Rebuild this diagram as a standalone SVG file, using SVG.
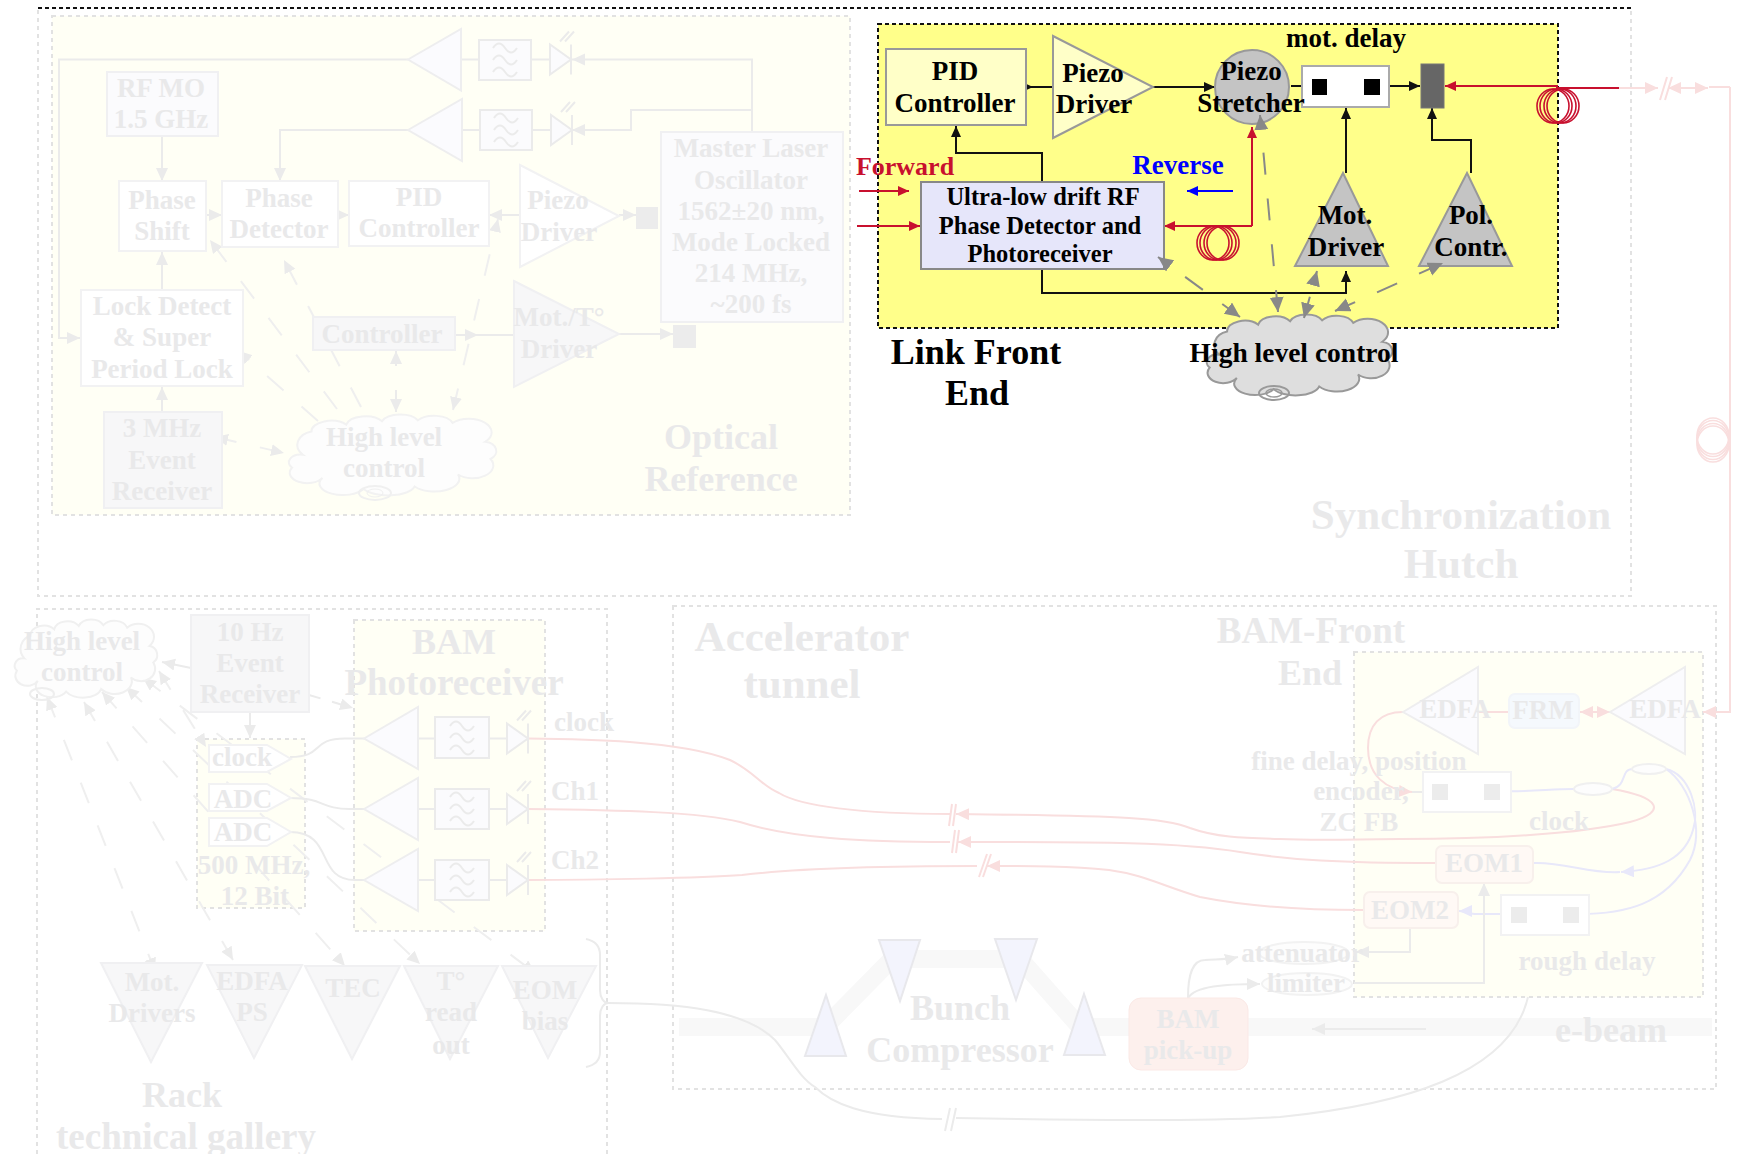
<svg xmlns="http://www.w3.org/2000/svg" width="1743" height="1154" viewBox="0 0 1743 1154">
<style>
text{font-family:"Liberation Serif","Times New Roman",serif;font-weight:700;text-anchor:middle}
.b{fill:#000;font-size:27px}
.f{fill:#e9e9ea;font-size:27px}
.l{font-size:36px}
.xl{font-size:43px}
.frame{fill:none;stroke:#e2e2e2;stroke-width:2;stroke-dasharray:4 4}
.framey{fill:#fffff5;stroke:#e2e2e2;stroke-width:2;stroke-dasharray:4 4}
.pb{fill:#fbfbfd;stroke:#f0f0f2;stroke-width:2}
.pg{fill:#f7f7f8;stroke:#f0f0f2;stroke-width:2}
.pw{fill:#fff;stroke:#f2f2f3;stroke-width:2}
.amp{fill:#fbfbfe;stroke:#eeeeef;stroke-width:2}
.flt{fill:#fbfbfd;stroke:#ebebeb;stroke-width:2}
.ln{fill:none;stroke:#ebebeb;stroke-width:2}
.lnd{fill:none;stroke:#efefef;stroke-width:2;stroke-dasharray:22 24}
.pr{fill:none;stroke:#f9dede;stroke-width:2}
.pl{fill:none;stroke:#e8e8fa;stroke-width:2}
.k{fill:none;stroke:#111;stroke-width:2}
.r{fill:none;stroke:#c8102e;stroke-width:2}
.gd{fill:none;stroke:#888;stroke-width:2;stroke-dasharray:22 24}
.sq{fill:#ececec;stroke:none}
.coil{fill:none;stroke:#c8102e;stroke-width:1.6}
.pcoil{fill:none;stroke:#f9dede;stroke-width:1.6}
</style>
<defs>
<marker id="mk" markerWidth="12" markerHeight="12" refX="11" refY="5" orient="auto" markerUnits="userSpaceOnUse"><path d="M0,0L11,5L0,10Z" fill="#111"/></marker>
<marker id="mr" markerWidth="12" markerHeight="12" refX="11" refY="5" orient="auto" markerUnits="userSpaceOnUse"><path d="M0,0L11,5L0,10Z" fill="#c8102e"/></marker>
<marker id="mb" markerWidth="12" markerHeight="12" refX="11" refY="5" orient="auto" markerUnits="userSpaceOnUse"><path d="M0,0L11,5L0,10Z" fill="#00f"/></marker>
<marker id="mg" markerWidth="16" markerHeight="16" refX="15" refY="7" orient="auto-start-reverse" markerUnits="userSpaceOnUse"><path d="M0,0L15,7L0,14Z" fill="#888"/></marker>
<marker id="mf" markerWidth="14" markerHeight="14" refX="13" refY="6" orient="auto-start-reverse" markerUnits="userSpaceOnUse"><path d="M0,0L13,6L0,12Z" fill="#ebebeb"/></marker>
<marker id="mp" markerWidth="14" markerHeight="14" refX="13" refY="6" orient="auto-start-reverse" markerUnits="userSpaceOnUse"><path d="M0,0L13,6L0,12Z" fill="#f9dede"/></marker>
<marker id="ml" markerWidth="14" markerHeight="14" refX="13" refY="6" orient="auto" markerUnits="userSpaceOnUse"><path d="M0,0L13,6L0,12Z" fill="#e8e8fa"/></marker>
<path id="cloudshape" d="M22,45A17,16 0 0 1 30,18A18,12 0 0 1 62,10A18,12 0 0 1 95,6A18,12 0 0 1 128,5A18,12 0 0 1 160,8A20,15 0 0 1 190,30A12,11 0 0 1 195,50A19,15 0 0 1 165,68A23,15 0 0 1 125,82A25,13 0 0 1 78,85A21,13 0 0 1 40,72A16,12 0 0 1 12,60A11,9 0 0 1 22,45Z" vector-effect="non-scaling-stroke"/>
<g id="filter"><path d="M-12,-12c4,-6 8,-6 12,0s8,6 12,0M-12,0c4,-6 8,-6 12,0s8,6 12,0M-12,12c4,-6 8,-6 12,0s8,6 12,0" fill="none" stroke="#ebebeb" stroke-width="2"/></g>
<g id="diode"><path d="M0,-15L0,15L21,0Z" fill="#fbfbfd" stroke="#ebebeb" stroke-width="2"/><path d="M21,-15V15M10,-18L19,-28M15,-18L24,-28" fill="none" stroke="#ebebeb" stroke-width="2"/></g>
<g id="coilg"><ellipse cx="-5" cy="0" rx="16" ry="17"/><ellipse cx="-2" cy="0" rx="16" ry="17"/><ellipse cx="2" cy="0" rx="16" ry="17"/><ellipse cx="5" cy="0" rx="16" ry="17"/></g>
<g id="coilp"><ellipse cx="0" cy="-4" rx="16" ry="18"/><ellipse cx="0" cy="-1.500" rx="16" ry="18"/><ellipse cx="0" cy="1.500" rx="16" ry="18"/><ellipse cx="0" cy="4" rx="16" ry="18"/></g>
</defs>
<rect width="1743" height="1154" fill="#fff"/>

<g id="frames">
<path class="frame" d="M38,10V596H1631V10"/>
<path d="M38,8H1631" fill="none" stroke="#111" stroke-width="2" stroke-dasharray="4 3"/>
<rect id="optical-frame" class="framey" x="52" y="16" width="798" height="499"/>
<path class="frame" d="M37,1154V609H607V1154"/>
<rect class="frame" x="673" y="606" width="1043" height="483"/>
<rect class="framey" x="354" y="620" width="191" height="311"/>
<rect class="framey" x="197" y="739" width="108" height="169"/>
<rect class="framey" x="1354" y="652" width="349" height="345"/>
</g>

<g id="beam">
<path d="M679,1027H825L892,959H1020L1080,1027H1712" fill="none" stroke="#f8f8f8" stroke-width="18"/>
</g>

<g id="connectors">
<path class="ln" marker-end="url(#mf)" d="M408,59.500H59V338H80"/>
<path class="ln" marker-end="url(#mf)" d="M752,132V59.500H572"/>
<path class="ln" marker-end="url(#mf)" d="M752,110H631V130H572"/>
<path class="ln" marker-end="url(#mf)" d="M408,130H280V181"/>
<path class="ln" d="M461,59.500H479M531,59.500H550M462,130H480M532,130H551"/>
<path class="ln" marker-end="url(#mf)" d="M162,136V181"/>
<path class="ln" marker-end="url(#mf)" d="M206,215H222"/>
<path class="ln" marker-end="url(#mf)" d="M338,215H349"/>
<path class="ln" marker-end="url(#mf)" d="M520,215H489"/>
<path class="ln" marker-end="url(#mf)" d="M619,215H636"/>
<path class="ln" marker-end="url(#mf)" d="M162,290V252"/>
<path class="ln" marker-end="url(#mf)" d="M162,412V387"/>
<path class="ln" d="M455,335H514"/>
<path class="ln" marker-end="url(#mf)" d="M455,335H478"/>
<path class="ln" marker-end="url(#mf)" d="M619,334H673"/>
<path class="lnd" marker-end="url(#mf)" d="M337,409L210,240"/>
<path class="lnd" marker-end="url(#mf)" d="M318,421L239,351"/>
<path class="lnd" marker-end="url(#mf)" d="M361,407L284,260"/>
<path class="lnd" marker-start="url(#mf)" marker-end="url(#mf)" d="M453,410L498,219"/>
<path class="lnd" marker-start="url(#mf)" marker-end="url(#mf)" d="M215,437L284,453"/>
<path class="ln" stroke-dasharray="22 24" marker-start="url(#mf)" marker-end="url(#mf)" d="M396,412V351"/>
<path class="lnd" marker-start="url(#mf)" marker-end="url(#mf)" d="M47,697L155,971"/>
<path class="lnd" marker-start="url(#mf)" marker-end="url(#mf)" d="M84,702L233,960"/>
<path class="lnd" marker-start="url(#mf)" marker-end="url(#mf)" d="M102,692L345,966"/>
<path class="lnd" marker-start="url(#mf)" marker-end="url(#mf)" d="M126,687L420,964"/>
<path class="lnd" marker-start="url(#mf)" marker-end="url(#mf)" d="M143,678L535,973"/>
<path class="lnd" marker-start="url(#mf)" marker-end="url(#mf)" d="M159,671L206,747"/>
<path class="ln" marker-end="url(#mf)" d="M191,668L162,662"/>
<path class="ln" stroke-dasharray="12 12" marker-end="url(#mf)" d="M309,695L353,708"/>
<path class="ln" marker-end="url(#mf)" d="M250,712V738"/>
<path class="ln" d="M290,757C325,757 310,738.500 345,738.500H364"/>
<path class="ln" d="M290,798C325,798 320,809 350,809H364"/>
<path class="ln" d="M290,832C335,832 315,880 355,880H364"/>
<path class="ln" d="M418,738.500H435M489,738.500H507M418,809H435M489,809H507M418,880H435M489,880H507"/>
<path class="ln" d="M586,939C596,941 600,946 600,955V990C600,998 604,1003 608,1003C604,1003 600,1008 600,1016V1052C600,1060 596,1065 586,1067"/>
<path class="ln" d="M608,1003C680,1003 745,1010 775,1040C790,1058 800,1078 815,1087C830,1102 860,1118 942,1119M956,1118C1060,1120 1200,1122 1280,1117C1400,1105 1510,1075 1528,997"/>
<path class="ln" d="M945,1131L950,1108M951,1131L956,1108"/>
<path class="pr" d="M528,738.500C580,739 680,740 730,760C755,772 760,785 779,793C800,806 860,814 950,814"/>
<path class="pr" marker-end="url(#mp)" d="M1612,789C1660,797 1668,812 1630,822C1580,834 1490,839 1400,839C1340,840 1300,840 1280,839C1240,838 1215,837 1190,828C1165,818 1130,816 956,814"/>
<path class="pr" d="M528,809C620,810 700,812 740,822C790,838 860,842 950,842"/>
<path class="pr" marker-end="url(#mp)" d="M1435,863C1340,863 1290,860 1240,852C1180,842 1100,842 958,842"/>
<path class="pr" d="M528,880C600,880 700,878 742,875C800,868 880,866 977,866"/>
<path class="pr" marker-end="url(#mp)" d="M1364,910C1300,910 1240,905 1200,897C1160,885 1145,875 1109,870C1070,866 1030,866 987,866"/>
<path class="pr" d="M952,804L949,826M956,804L953,826M955,830L952,853M959,830L956,853M987,854L979,877M991,854L983,877"/>
<path class="pr" marker-end="url(#mp)" d="M1403,712C1380,712 1368,725 1368,748C1368,775 1385,790 1412,792"/>
<path class="pr" d="M1478,712H1509"/>
<path class="pr" marker-start="url(#mp)" marker-end="url(#mp)" d="M1580,712H1610"/>
<path class="pr" marker-end="url(#mp)" d="M1730,87V712H1703"/>
<path class="pr" marker-end="url(#mp)" d="M1619,88H1658"/>
<path class="pr" marker-start="url(#mp)" marker-end="url(#mp)" d="M1668,88H1708"/>
<path class="pr" d="M1709,87H1730"/>
<path class="pr" d="M1660,100L1667,77M1665,100L1672,77"/>
<use href="#coilp" class="pcoil" x="1713" y="440"/>
<path class="ln" d="M1412,792H1432"/>
<path class="pl" d="M1500,791C1530,792 1550,789 1574,789"/>
<path class="pl" d="M1612,789C1628,785 1620,769 1633,769"/>
<path class="pl" marker-end="url(#ml)" d="M1666,769C1690,775 1700,810 1693,830C1685,858 1660,870 1621,872"/>
<path class="pl" d="M1620,872C1590,874 1565,862 1534,863"/>
<path class="pl" d="M1666,769C1690,785 1705,830 1690,860C1665,905 1625,914 1579,914"/>
<path class="pl" marker-end="url(#ml)" d="M1510,914H1475C1470,914 1468,911 1459,911"/>
<path class="ln" marker-end="url(#mf)" d="M1410,928V952H1356"/>
<path class="ln" marker-end="url(#mf)" d="M1354,983H1484V883"/>
<path class="ln" marker-end="url(#mf)" d="M1188,998C1188,975 1192,960 1205,960C1215,959 1225,960 1238,957"/>
<path class="ln" marker-end="url(#mf)" d="M1188,998C1195,986 1225,984 1260,984"/>
<path class="ln" marker-end="url(#mf)" d="M1426,1029H1312"/>
</g>

<g id="node-link-frame"><rect x="878" y="24" width="680" height="304" fill="#ffff8a" stroke="#111" stroke-width="2" stroke-dasharray="4 3"/></g>
<g id="connectors-link">
<path class="k" marker-end="url(#mk)" d="M1042,182V153H956V126"/>
<path class="k" d="M1026,87H1053"/><path d="M1022,82L1033,87L1022,92Z" fill="#111"/>
<path class="k" marker-end="url(#mk)" d="M1153,87H1215"/>
<path class="k" d="M1291,86H1312"/>
<path class="k" marker-end="url(#mk)" d="M1380,86H1420"/>
<path class="k" marker-end="url(#mk)" d="M1042,269V293H1346V271"/>
<path class="k" marker-end="url(#mk)" d="M1346,173V108"/>
<path class="k" marker-end="url(#mk)" d="M1471,173V140H1432V108"/>
<path class="r" marker-end="url(#mr)" d="M1558,86H1445"/>
<path class="r" d="M1556,88H1619"/>
<path class="r" marker-end="url(#mr)" d="M859,191H909"/>
<path class="r" marker-end="url(#mr)" d="M857,226H920"/>
<path class="r" marker-end="url(#mr)" d="M1252,226H1164"/>
<path class="r" marker-end="url(#mr)" d="M1252,226V127"/>
<path d="M1233,191H1187" fill="none" stroke="#00f" stroke-width="2" marker-end="url(#mb)"/>
<use href="#coilg" class="coil" x="1558" y="106"/>
<use href="#coilg" class="coil" x="1218" y="243"/>
</g>

<g id="pid-controller"><rect x="886" y="49" width="140" height="76" fill="#ffffc8" stroke="#999" stroke-width="2"/><text class="b" x="955" y="80">PID</text><text class="b" x="955" y="112">Controller</text></g>
<g id="piezo-driver"><path d="M1053,36L1153,87L1053,138Z" fill="#ffffc8" stroke="#999" stroke-width="2"/><text class="b" x="1093" y="82">Piezo</text><text class="b" x="1094" y="113">Driver</text></g>
<g id="delay"><rect x="1302" y="66" width="87" height="41" fill="#fff" stroke="#aaa" stroke-width="2"/><rect x="1312" y="79" width="15" height="16"/><rect x="1364" y="79" width="16" height="16"/><text class="b" x="1346" y="47">mot. delay</text></g>
<g id="piezo-stretcher"><ellipse cx="1252" cy="87" rx="37" ry="37" fill="#c4c4c4" stroke="#999" stroke-width="2"/><text class="b" x="1251" y="80">Piezo</text><text class="b" x="1251" y="112">Stretcher</text></g>
<g id="pol-mirror"><rect x="1421" y="64" width="23" height="44" fill="#666" stroke="#777"/></g>
<g id="phase-detector"><rect x="921" y="182" width="243" height="87" fill="#e6e6fa" stroke="#888" stroke-width="2"/><text class="b" x="1043" y="205" style="font-size:24.500px">Ultra-low drift RF</text><text class="b" x="1040" y="234" style="font-size:24.500px">Phase Detector and</text><text class="b" x="1040" y="262" style="font-size:24.500px">Photoreceiver</text></g>
<g id="mot-driver"><path d="M1343,173L1388,266H1295Z" fill="#c4c4c4" stroke="#999" stroke-width="2"/><text class="b" x="1345" y="224">Mot.</text><text class="b" x="1346" y="256">Driver</text></g>
<g id="pol-contr"><path d="M1467,173L1512,266H1419Z" fill="#c4c4c4" stroke="#999" stroke-width="2"/><text class="b" x="1471" y="224">Pol.</text><text class="b" x="1471" y="256">Contr.</text></g>
<g id="forward-label"><text class="b" x="905" y="175" style="fill:#c8102e;font-size:26px">Forward</text></g>
<g id="reverse-label"><text class="b" x="1178" y="174" style="fill:#00f">Reverse</text></g>
<g id="link-label"><text class="b l" x="976" y="364">Link Front</text><text class="b l" x="977" y="405">End</text></g>
<g id="cloud-link"><use href="#cloudshape" transform="translate(1198,316) scale(.97,.86)" fill="#dedede" stroke="#999" stroke-width="2"/><ellipse cx="1274" cy="393" rx="15" ry="7" fill="none" stroke="#999" stroke-width="2"/><ellipse cx="1274" cy="393" rx="8" ry="4" fill="none" stroke="#999" stroke-width="1.500"/></g>
<g id="connectors-control">
<path class="gd" marker-start="url(#mg)" marker-end="url(#mg)" d="M1240,317L1158,257"/>
<path class="gd" marker-start="url(#mg)" marker-end="url(#mg)" d="M1278,312L1260,115"/>
<path class="gd" marker-start="url(#mg)" marker-end="url(#mg)" d="M1304,318L1317,271"/>
<path class="gd" marker-start="url(#mg)" marker-end="url(#mg)" d="M1335,311L1443,263"/>
</g>
<g id="cloud-link-label"><text class="b" x="1294" y="362" style="font-size:27.500px">High level control</text></g>

<g id="rf-mo"><rect class="pb" x="107" y="72" width="111" height="64"/><text class="f" x="161" y="97">RF MO</text><text class="f" x="161" y="128">1.5 GHz</text></g>
<g id="amp-o1"><path class="amp" d="M408,59.500L461,29V90.500Z"/><rect class="flt" x="479" y="40" width="52" height="40"/><use href="#filter" x="505" y="60"/><use href="#diode" x="550" y="59.500"/></g>
<g id="amp-o2"><path class="amp" d="M408,130L462,99V161Z"/><rect class="flt" x="480" y="110" width="52" height="40"/><use href="#filter" x="506" y="130"/><use href="#diode" x="551" y="130"/></g>
<g id="phase-shift"><rect class="pw" x="119" y="181" width="87" height="70"/><text class="f" x="162" y="209">Phase</text><text class="f" x="162" y="240">Shift</text></g>
<g id="phase-det"><rect class="pw" x="222" y="181" width="116" height="66"/><text class="f" x="279" y="207">Phase</text><text class="f" x="279" y="238">Detector</text></g>
<g id="pid-o"><rect class="pw" x="349" y="181" width="140" height="65"/><text class="f" x="419" y="206">PID</text><text class="f" x="419" y="237">Controller</text></g>
<g id="piezo-o"><path class="pw" d="M520,165L619,216L520,267Z"/><text class="f" x="558" y="209">Piezo</text><text class="f" x="559" y="241">Driver</text></g>
<g id="sq-o"><rect class="sq" x="636" y="207" width="22" height="22"/><rect class="sq" x="673" y="325" width="23" height="23"/></g>
<g id="master"><rect class="pb" x="661" y="132" width="182" height="190"/><text class="f" x="751" y="157">Master Laser</text><text class="f" x="751" y="189">Oscillator</text><text class="f" x="751" y="220">1562±20 nm,</text><text class="f" x="751" y="251">Mode Locked</text><text class="f" x="751" y="282">214 MHz,</text><text class="f" x="751" y="313">~200 fs</text></g>
<g id="lock"><rect class="pw" x="81" y="290" width="162" height="96"/><text class="f" x="162" y="315">Lock Detect</text><text class="f" x="162" y="346">&amp; Super</text><text class="f" x="162" y="378">Period Lock</text></g>
<g id="evr3"><rect class="pg" x="104" y="412" width="118" height="96"/><text class="f" x="162" y="437">3 MHz</text><text class="f" x="162" y="469">Event</text><text class="f" x="162" y="500">Receiver</text></g>
<g id="ctrl"><rect class="pg" x="313" y="317" width="142" height="33"/><text class="f" x="382" y="343">Controller</text></g>
<g id="mot-o"><path class="pg" d="M514,281L619,334L514,387Z"/><text class="f" x="559" y="326">Mot./T°</text><text class="f" x="559" y="358">Driver</text></g>
<g id="cloud-o"><use href="#cloudshape" transform="translate(279,416) scale(1.085,.86)" fill="#fdfdfd" stroke="#f2f2f2" stroke-width="2"/><ellipse cx="375" cy="493" rx="16" ry="7" fill="none" stroke="#f0f0f0" stroke-width="2"/><ellipse cx="375" cy="493" rx="8" ry="4" fill="none" stroke="#f0f0f0"/><text class="f" x="384" y="446">High level</text><text class="f" x="384" y="477">control</text></g>
<g id="optical-label"><text class="f l" x="721" y="449">Optical</text><text class="f l" x="721" y="491">Reference</text></g>
<g id="sync-label"><text class="f xl" x="1461" y="529">Synchronization</text><text class="f xl" x="1461" y="578">Hutch</text></g>

<g id="cloud-r"><use href="#cloudshape" transform="translate(8,621) scale(.745,.83)" fill="#fdfdfd" stroke="#f0f0f0" stroke-width="2"/><ellipse cx="42" cy="694" rx="12" ry="6" fill="none" stroke="#eee" stroke-width="2"/><text class="f" x="82" y="650">High level</text><text class="f" x="82" y="681">control</text></g>
<g id="evr10"><rect class="pg" x="191" y="615" width="118" height="97"/><text class="f" x="250" y="641">10 Hz</text><text class="f" x="250" y="672">Event</text><text class="f" x="250" y="703">Receiver</text></g>
<g id="bam-label"><text class="f l" x="454" y="654">BAM</text><text class="f l" x="454" y="695" style="font-size:37px">Photoreceiver</text></g>
<g id="amp1"><path class="amp" d="M364,738.500L418,707V769Z"/><rect class="flt" x="435" y="717" width="54" height="41"/><use href="#filter" x="462" y="738"/><use href="#diode" x="507" y="738.500"/><text class="f" x="584" y="731">clock</text></g>
<g id="amp2"><path class="amp" d="M364,809L418,778V840Z"/><rect class="flt" x="435" y="789" width="54" height="40"/><use href="#filter" x="462" y="809"/><use href="#diode" x="507" y="809"/><text class="f" x="575" y="800">Ch1</text></g>
<g id="amp3"><path class="amp" d="M364,880L418,849V911Z"/><rect class="flt" x="435" y="860" width="54" height="40"/><use href="#filter" x="462" y="880"/><use href="#diode" x="507" y="880"/><text class="f" x="575" y="869">Ch2</text></g>
<g id="adc-clock"><path class="pw" d="M209,745H267L291,759L267,772H209Z"/><text class="f" x="242" y="766">clock</text></g>
<g id="adc1"><path class="pw" d="M209,784H267L291,798L267,811H209Z"/><text class="f" x="243" y="808">ADC</text></g>
<g id="adc2"><path class="pw" d="M209,818H267L291,832L267,846H209Z"/><text class="f" x="243" y="841">ADC</text></g>
<g id="adc-label"><text class="f" x="254" y="874">500 MHz,</text><text class="f" x="255" y="905">12 Bit</text></g>
<g id="t1"><path class="pg" d="M101,963H202L151,1062Z"/><text class="f" x="152" y="991">Mot.</text><text class="f" x="152" y="1022">Drivers</text></g>
<g id="t2"><path class="pg" d="M207,965H302L254,1058Z"/><text class="f" x="252" y="990">EDFA</text><text class="f" x="252" y="1021">PS</text></g>
<g id="t3"><path class="pg" d="M305,966H400L352,1059Z"/><text class="f" x="353" y="997">TEC</text></g>
<g id="t4"><path class="pg" d="M404,966H498L450,1059Z"/><text class="f" x="451" y="990">T°</text><text class="f" x="451" y="1021">read</text><text class="f" x="451" y="1054">out</text></g>
<g id="t5"><path class="pg" d="M502,966H596L548,1058Z"/><text class="f" x="545" y="999">EOM</text><text class="f" x="545" y="1030">bias</text></g>
<g id="rack-label"><text class="f l" x="182" y="1107">Rack</text><text class="f l" x="186" y="1149" style="font-size:37px">technical gallery</text></g>

<g id="accel-label"><text class="f xl" x="802" y="651">Accelerator</text><text class="f xl" x="802" y="698">tunnel</text></g>
<g id="bc1"><path d="M826,995L846,1056H805Z" fill="#f3f4fd" stroke="#e8e8ec" stroke-width="2"/></g>
<g id="bc2"><path d="M879,940H920L900,1001Z" fill="#f3f4fd" stroke="#e8e8ec" stroke-width="2"/></g>
<g id="bc3"><path d="M995,939H1037L1016,1000Z" fill="#f3f4fd" stroke="#e8e8ec" stroke-width="2"/></g>
<g id="bc4"><path d="M1084,994L1105,1055H1064Z" fill="#f3f4fd" stroke="#e8e8ec" stroke-width="2"/></g>
<g id="bc-label"><text class="f l" x="960" y="1020">Bunch</text><text class="f l" x="960" y="1062">Compressor</text></g>
<g id="pickup"><rect x="1129" y="998" width="119" height="72" rx="12" fill="#fdf0ed" stroke="#fbe9e6"/><text class="f" x="1188" y="1028">BAM</text><text class="f" x="1188" y="1059">pick-up</text></g>
<g id="ebeam-label"><text class="f l" x="1611" y="1042">e-beam</text></g>
<g id="bfe-label"><text class="f l" x="1311" y="643" style="font-size:37px">BAM-Front</text><text class="f l" x="1310" y="685">End</text></g>
<g id="edfa1"><path class="amp" d="M1403,712L1478,667V754Z"/><text class="f" x="1455" y="718">EDFA</text></g>
<g id="frm"><rect x="1509" y="694" width="70" height="34" rx="6" fill="#f5f9fd" stroke="#f2f5f9" stroke-width="2"/><text class="f" x="1543" y="719">FRM</text></g>
<g id="edfa2"><path class="amp" d="M1610,712L1685,667V754Z"/><text class="f" x="1665" y="718">EDFA</text></g>
<g id="fine-delay"><rect class="pw" x="1423" y="772" width="88" height="40"/><rect class="sq" x="1432" y="784" width="16" height="16"/><rect class="sq" x="1484" y="784" width="16" height="16"/><text class="f" x="1359" y="770">fine delay, position</text><text class="f" x="1361" y="800">encoder,</text><text class="f" x="1359" y="831">ZC FB</text></g>
<g id="coupler1"><ellipse cx="1593" cy="789" rx="19" ry="6" fill="#fdfdfd" stroke="#f0f0f0" stroke-width="2"/></g>
<g id="coupler2"><ellipse cx="1649" cy="769" rx="17" ry="5" fill="#fdfdfd" stroke="#f0f0f0" stroke-width="2"/></g>
<g id="clock-label"><text class="f" x="1559" y="830">clock</text></g>
<g id="eom1"><rect x="1436" y="846" width="97" height="37" rx="6" fill="#fff9f5" stroke="#f8f0ec" stroke-width="2"/><text class="f" x="1484" y="872">EOM1</text></g>
<g id="eom2"><rect x="1364" y="892" width="94" height="36" rx="6" fill="#fff9f5" stroke="#f8f0ec" stroke-width="2"/><text class="f" x="1410" y="919">EOM2</text></g>
<g id="rough-delay"><rect class="pw" x="1501" y="895" width="88" height="40"/><rect class="sq" x="1511" y="907" width="16" height="16"/><rect class="sq" x="1563" y="907" width="16" height="16"/><text class="f" x="1587" y="970">rough delay</text></g>
<g id="attenuator"><ellipse cx="1304" cy="953" rx="45" ry="11" fill="#fdfdfd" stroke="#f2f2f2" stroke-width="2"/><text class="f" x="1302" y="962">attenuator</text></g>
<g id="limiter"><ellipse cx="1307" cy="984" rx="45" ry="11" fill="#fdfdfd" stroke="#f2f2f2" stroke-width="2"/><text class="f" x="1306" y="992">limiter</text></g>
</svg>
